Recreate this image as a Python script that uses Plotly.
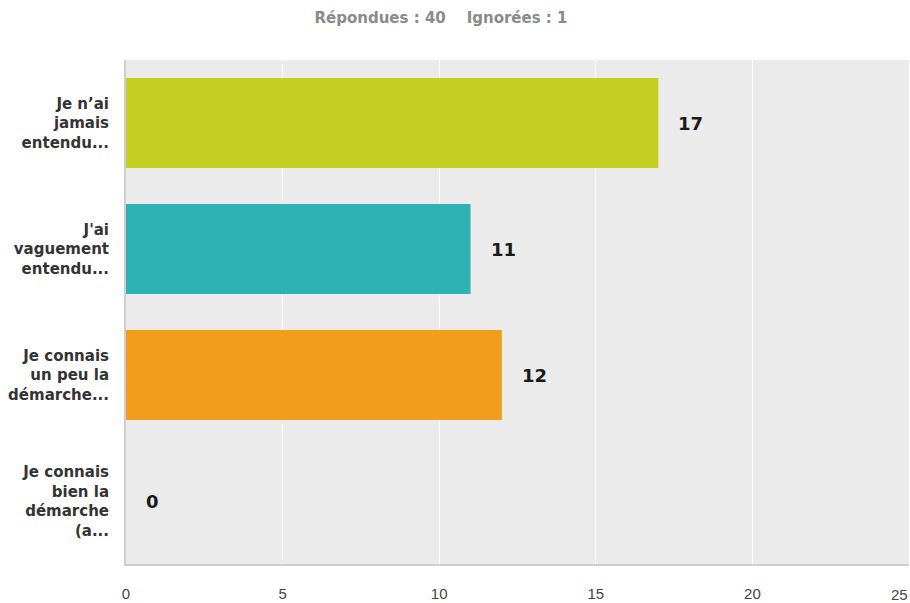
import plotly.graph_objects as go

categories = [
    "Je n’ai<br>jamais<br>entendu...",
    "J'ai<br>vaguement<br>entendu...",
    "Je connais<br>un peu la<br>démarche...",
    "Je connais<br>bien la<br>démarche<br>(a...",
]
values = [17, 11, 12, 0]
colors = ["#c5cf21", "#2db1b2", "#f29e1c", "#8f8f8f"]
x_ticks = [0, 5, 10, 15, 20, 25]
title_text = "Répondues : 40&nbsp;&nbsp;&nbsp;&nbsp;Ignorées : 1"

ypos = list(range(len(categories)))

tick_font = dict(family="Liberation Sans Narrow, Liberation Sans", size=15, color="#444444")

# last tick label is drawn right-aligned at the page edge (as in the reference)
x_ticktext = [str(t) for t in x_ticks]
x_ticktext[-1] = ""

fig = go.Figure()
fig.add_trace(go.Bar(
    x=values, y=ypos, orientation="h",
    marker=dict(color=colors, line=dict(width=0)),
    width=0.714, hoverinfo="skip",
))

for v, y in zip(values, ypos):
    fig.add_annotation(
        x=v, y=y, text=str(v), showarrow=False,
        xanchor="left", xshift=18, yshift=0,
        font=dict(family="DejaVu Sans", size=18, color="#1a1a1a", weight="bold"),
    )

fig.add_annotation(
    x=x_ticks[-1], xref="x", y=0, yref="paper", yanchor="top", yshift=-21,
    xanchor="right", text=str(x_ticks[-1]), showarrow=False,
    font=tick_font, borderpad=0,
)

fig.update_layout(
    width=910, height=603,
    margin=dict(l=126, r=1, t=60, b=39),
    paper_bgcolor="white",
    plot_bgcolor="#ebebeb",
    showlegend=False,
    title=dict(
        text=title_text, x=441 / 910, xanchor="center", y=1 - 18 / 603, yanchor="middle",
        font=dict(family="DejaVu Sans", size=15, color="#8a8a8a", weight="bold"),
    ),
    xaxis=dict(
        range=[0, 25], tickvals=x_ticks, ticktext=x_ticktext,
        showgrid=True, gridcolor="white", gridwidth=1,
        zeroline=False, showline=True, linecolor="#cfcfcf", linewidth=2,
        ticks="", ticklen=0,
        tickfont=tick_font,
        ticklabelstandoff=15,
        ticklabeloverflow="allow",
        automargin=False,
        fixedrange=True,
    ),
    yaxis=dict(
        range=[3.5, -0.5], tickvals=ypos, ticktext=categories,
        showgrid=False, zeroline=False,
        showline=True, linecolor="#cfcfcf", linewidth=2,
        ticks="", ticklabelstandoff=12,
        automargin=False,
        tickfont=dict(family="DejaVu Sans", size=15, color="#333333", weight="bold"),
        fixedrange=True,
    ),
)

fig.write_html(
    "out.html",
    config={"displayModeBar": False},
    post_script="document.body.style.margin='0';document.body.style.overflow='hidden';",
)
